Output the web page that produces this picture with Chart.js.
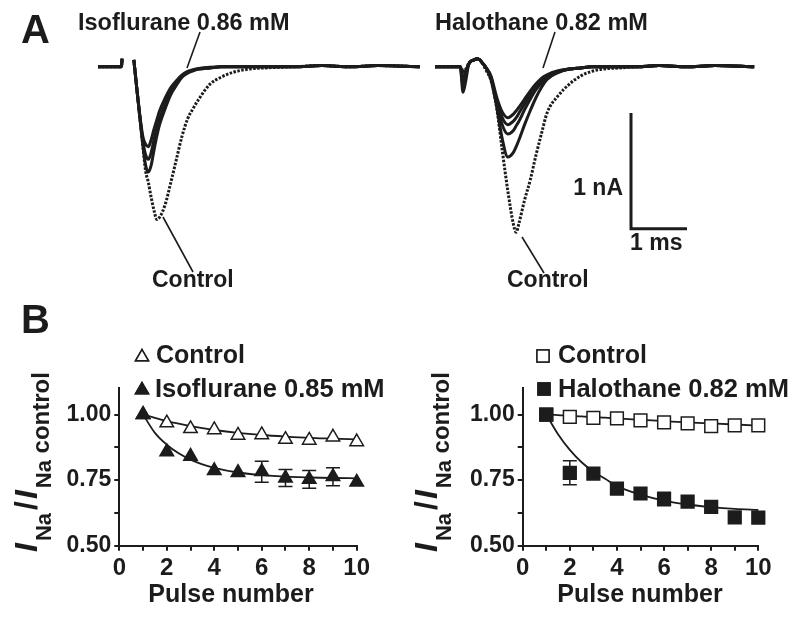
<!DOCTYPE html>
<html>
<head>
<meta charset="utf-8">
<script src="https://cdn.jsdelivr.net/npm/chart.js@4.4.1/dist/chart.umd.min.js"></script>
<style>
  body { margin: 0; background: #fff; }
  #fig { position: relative; width: 800px; height: 617px; overflow: hidden; background: #fff; }
  canvas { position: absolute; }
</style>
</head>
<body>
<div id="fig">
  <canvas id="traceIso" width="425" height="300" style="left:0;top:0;width:425px;height:300px"></canvas>
  <canvas id="traceHalo" width="375" height="300" style="left:425px;top:0;width:375px;height:300px"></canvas>
  <canvas id="pulseIso" width="400" height="317" style="left:0;top:300px;width:400px;height:317px"></canvas>
  <canvas id="pulseHalo" width="400" height="317" style="left:400px;top:300px;width:400px;height:317px"></canvas>
</div>
<script>
// ---- panel A : current traces (time in ms, current in nA) ----
var isoTime = [0, 0.42, 0.43, 0.5, 0.64, 0.7, 0.8, 0.85, 0.9, 0.95, 1.0, 1.05, 1.1, 1.2, 1.3, 1.4, 1.5, 1.6, 1.7, 1.8, 2.0, 2.2, 2.4, 2.7, 3.0, 3.5, 4.0, 4.5, 5.0, 5.75];
var isoControlTrace = [0, 0, 0.07, null, 0.06, -0.22, -0.68, -0.9, -1.0, -1.13, -1.24, -1.32, -1.3, -1.19, -1.0, -0.8, -0.6, -0.45, -0.36, -0.28, -0.15, -0.09, -0.05, -0.02, -0.01, 0, 0.01, 0, 0.01, 0];
var isoTrace1 = [0, 0, 0.07, null, 0.06, -0.22, -0.6, -0.67, -0.69, -0.63, -0.54, -0.46, -0.38, -0.27, -0.18, -0.12, -0.07, -0.04, -0.025, -0.015, -0.005, 0, 0, 0, 0, 0, 0.01, 0, 0.01, 0];
var isoTrace2 = [0, 0, 0.07, null, 0.06, -0.22, -0.64, -0.76, -0.8, -0.74, -0.63, -0.53, -0.45, -0.32, -0.21, -0.14, -0.08, -0.05, -0.03, -0.02, -0.01, 0, 0, 0, 0, 0, 0.01, 0, 0.01, 0];
var isoTrace3 = [0, 0, 0.07, null, 0.06, -0.22, -0.67, -0.85, -0.91, -0.85, -0.72, -0.6, -0.5, -0.36, -0.24, -0.16, -0.09, -0.055, -0.035, -0.02, -0.01, 0, 0, 0, 0, 0, 0.01, 0, 0.01, 0];

var haloTime = [0, 0.45, 0.5, 0.55, 0.6, 0.65, 0.7, 0.75, 0.8, 0.85, 0.9, 1.0, 1.1, 1.2, 1.3, 1.4, 1.45, 1.5, 1.6, 1.7, 1.8, 1.9, 2.0, 2.2, 2.4, 2.6, 2.8, 3.0, 3.3, 3.6, 4.0, 4.5, 5.0, 5.7];
var haloControlTrace = [0, 0, -0.03, -0.02, 0.03, 0.05, 0.06, 0.07, 0.06, 0.03, -0.02, -0.12, -0.35, -0.72, -1.07, -1.36, -1.43, -1.35, -1.15, -0.98, -0.77, -0.58, -0.4, -0.25, -0.15, -0.08, -0.04, -0.02, -0.01, 0, 0.01, 0, 0.01, 0];
var haloTrace1 = [0, 0, -0.22, -0.12, 0.02, 0.05, 0.06, 0.07, 0.06, 0.03, 0, -0.08, -0.26, -0.39, -0.44, -0.41, -0.38, -0.35, -0.28, -0.21, -0.15, -0.1, -0.07, -0.035, -0.02, -0.01, 0, 0, 0, 0, 0.01, 0, 0.01, 0];
var haloTrace2 = [0, 0, -0.16, -0.08, 0.02, 0.05, 0.06, 0.07, 0.06, 0.03, 0, -0.09, -0.29, -0.44, -0.5, -0.47, -0.44, -0.4, -0.32, -0.24, -0.17, -0.12, -0.08, -0.04, -0.02, -0.01, 0, 0, 0, 0, 0.01, 0, 0.01, 0];
var haloTrace3 = [0, 0, -0.1, -0.05, 0.02, 0.05, 0.06, 0.07, 0.06, 0.03, 0, -0.1, -0.31, -0.5, -0.58, -0.55, -0.51, -0.47, -0.37, -0.28, -0.2, -0.14, -0.09, -0.045, -0.02, -0.01, 0, 0, 0, 0, 0.01, 0, 0.01, 0];
var haloTrace4 = [0, 0, -0.05, -0.03, 0.02, 0.05, 0.06, 0.07, 0.06, 0.03, 0, -0.11, -0.34, -0.62, -0.78, -0.74, -0.69, -0.63, -0.5, -0.38, -0.27, -0.18, -0.11, -0.05, -0.02, -0.01, 0, 0, 0, 0, 0.01, 0, 0.01, 0];

// ---- panel B : I_Na / I_Na control against pulse number ----
var pulses = [1, 2, 3, 4, 5, 6, 7, 8, 9, 10];
var isoControl = [1.0, 0.968, 0.946, 0.942, 0.921, 0.923, 0.905, 0.902, 0.914, 0.896];
var isoDrug = [1.0, 0.858, 0.841, 0.786, 0.779, 0.782, 0.758, 0.753, 0.763, 0.742];
var isoDrugErr = [0, 0, 0, 0, 0, 0.04, 0.032, 0.034, 0.034, 0];
var haloControl = [1.0, 0.991, 0.987, 0.985, 0.978, 0.97, 0.966, 0.956, 0.959, 0.959];
var haloDrug = [1.0, 0.778, 0.775, 0.718, 0.699, 0.678, 0.668, 0.648, 0.608, 0.607];
var haloDrugErr = [0, 0.046, 0, 0.02, 0, 0.026, 0, 0, 0, 0];

var fitX = [1, 1.5, 2, 2.5, 3, 3.5, 4, 5, 6, 7, 8, 9, 10];
var isoControlFit = [1.0, 0.987, 0.975, 0.965, 0.956, 0.948, 0.941, 0.93, 0.922, 0.916, 0.911, 0.908, 0.905];
var isoDrugFit = [1.0, 0.93, 0.885, 0.852, 0.828, 0.81, 0.797, 0.779, 0.769, 0.763, 0.76, 0.758, 0.757];
var haloControlFit = [1.0, 0.998, 0.995, 0.993, 0.99, 0.988, 0.985, 0.98, 0.975, 0.97, 0.966, 0.962, 0.958];
var haloDrugFit = [1.0, 0.925, 0.865, 0.818, 0.782, 0.755, 0.727, 0.695, 0.672, 0.657, 0.647, 0.64, 0.636];

var xTicksB = [0, 1, 2, 3, 4, 5, 6, 7, 8, 9, 10];
var yTicksB = [0.5, 0.625, 0.75, 0.875, 1.0];

var ink = '#1c1c1c';
var face = "'Liberation Sans', Arial, sans-serif";

function xy(xs, ys) {
    return xs.map(function (x, i) { return {x: x, y: ys[i]}; });
}

// free text, leader lines, legend marks and the composite y title
var notesPlugin = {
    id: 'notes',
    afterDraw: function (chart, args, opts) {
        var ctx = chart.ctx;
        ctx.save();
        ctx.fillStyle = ink;
        ctx.strokeStyle = ink;
        (opts.lines || []).forEach(function (l) {
            ctx.lineWidth = 1.6;
            ctx.beginPath();
            ctx.moveTo(l[0], l[1]);
            ctx.lineTo(l[2], l[3]);
            ctx.stroke();
        });
        (opts.marks || []).forEach(function (m) {
            ctx.fillStyle = m.fill;
            ctx.strokeStyle = ink;
            Chart.helpers.drawPoint(ctx, {pointStyle: m.style, radius: m.r, rotation: 0, borderWidth: 1.5}, m.x, m.y);
            ctx.fill();
            ctx.stroke();
        });
        ctx.fillStyle = ink;
        ctx.textBaseline = 'alphabetic';
        (opts.texts || []).forEach(function (t) {
            ctx.font = t.font;
            ctx.textAlign = t.align || 'left';
            ctx.fillText(t.text, t.x, t.y);
        });
        if (opts.yTitle) {
            var yt = opts.yTitle;
            ctx.translate(yt.x, yt.y);
            ctx.rotate(-Math.PI / 2);
            ctx.textAlign = 'left';
            var pos = 0;
            yt.parts.forEach(function (p) {
                ctx.font = p.font;
                ctx.fillText(p.text, pos, p.shift);
                pos += ctx.measureText(p.text).width + (p.gap || 0);
            });
        }
        ctx.restore();
    }
};

// 1 nA / 1 ms calibration bar, placed in data units
var scaleBarPlugin = {
    id: 'scaleBar',
    afterDraw: function (chart, args, opts) {
        if (!opts.x) return;
        var xs = chart.scales.x, ys = chart.scales.y, ctx = chart.ctx;
        var x0 = xs.getPixelForValue(opts.x), y0 = ys.getPixelForValue(opts.y);
        ctx.save();
        ctx.strokeStyle = ink;
        ctx.lineWidth = 3;
        ctx.beginPath();
        ctx.moveTo(x0, ys.getPixelForValue(opts.y + opts.dy));
        ctx.lineTo(x0, y0);
        ctx.lineTo(xs.getPixelForValue(opts.x + opts.dx), y0);
        ctx.stroke();
        ctx.restore();
    }
};

var errorBarPlugin = {
    id: 'errorBars',
    beforeDatasetsDraw: function (chart, args, opts) {
        if (!opts.err) return;
        var xs = chart.scales.x, ys = chart.scales.y, ctx = chart.ctx;
        ctx.save();
        ctx.strokeStyle = ink;
        ctx.lineWidth = 1.5;
        opts.err.forEach(function (e, i) {
            if (!e) return;
            var x = xs.getPixelForValue(opts.x[i]);
            var top = ys.getPixelForValue(opts.y[i] + e);
            var bot = ys.getPixelForValue(opts.y[i] - e);
            ctx.beginPath();
            ctx.moveTo(x, top); ctx.lineTo(x, bot);
            ctx.moveTo(x - 7, top); ctx.lineTo(x + 7, top);
            ctx.moveTo(x - 7, bot); ctx.lineTo(x + 7, bot);
            ctx.stroke();
        });
        ctx.restore();
    }
};

function traceSet(ys, dashed) {
    return {
        data: ys,
        borderColor: ink,
        borderWidth: dashed ? 3 : 3,
        borderDash: dashed ? [2.5, 1.5] : [],
        pointRadius: 0,
        showLine: true,
        spanGaps: false,
        clip: false,
        cubicInterpolationMode: 'monotone'
    };
}

function traceChart(id, time, traces, xMax, pad, notes, bar) {
    new Chart(document.getElementById(id), {
        type: 'scatter',
        data: {datasets: traces.map(function (t) { return traceSet(xy(time, t.y), t.dashed); })},
        options: {
            responsive: false,
            animation: false,
            events: [],
            layout: {padding: pad},
            scales: {
                x: {type: 'linear', display: false, min: 0, max: xMax},
                y: {type: 'linear', display: false, min: -1.6, max: 0.3}
            },
            plugins: {legend: {display: false}, tooltip: {enabled: false}, notes: notes, scaleBar: bar || {}}
        },
        plugins: [notesPlugin, scaleBarPlugin]
    });
}

traceChart('traceIso', isoTime, [
    {y: isoControlTrace, dashed: true},
    {y: isoTrace3}, {y: isoTrace2}, {y: isoTrace1}
], 5.75, {left: 98, right: 5, top: 32, bottom: 48}, {
    texts: [
        {text: 'A', x: 21, y: 43, font: 'bold 40px ' + face},
        {text: 'Isoflurane 0.86 mM', x: 78, y: 30, font: 'bold 23.5px ' + face},
        {text: 'Control', x: 152, y: 287, font: 'bold 23px ' + face}
    ],
    lines: [[200, 32, 187, 68], [163, 217, 193, 272]]
});

traceChart('traceHalo', haloTime, [
    {y: haloControlTrace, dashed: true},
    {y: haloTrace4}, {y: haloTrace3}, {y: haloTrace2}, {y: haloTrace1}
], 5.7, {left: 10, right: 45.8, top: 32, bottom: 48}, {
    texts: [
        {text: 'Halothane 0.82 mM', x: 10, y: 30, font: 'bold 23.5px ' + face},
        {text: 'Control', x: 82, y: 287, font: 'bold 23px ' + face},
        {text: '1 nA', x: 198, y: 195, font: 'bold 23px ' + face, align: 'right'},
        {text: '1 ms', x: 205, y: 250, font: 'bold 23px ' + face}
    ],
    lines: [[130, 32, 118, 68], [97, 237, 119, 273]]
}, {x: 3.5, y: -1.4, dx: 1, dy: 1});

function yTitle() {
    var big = 'italic bold 32px ' + face, sub = 'bold 22px ' + face;
    return {
        x: 37, y: 252,
        parts: [
            {text: 'I', font: big, shift: 0, gap: 2},
            {text: 'Na', font: sub, shift: 14, gap: 3},
            {text: '/', font: 'bold 32px ' + face, shift: 0, gap: 2},
            {text: 'I', font: big, shift: 0, gap: 2},
            {text: 'Na', font: sub, shift: 14, gap: 0},
            {text: ' control', font: 'bold 24px ' + face, shift: 12, gap: 0}
        ]
    };
}

function pulseChart(id, ctrl, drug, err, ctrlFit, drugFit, style, r, pad, notes) {
    new Chart(document.getElementById(id), {
        type: 'scatter',
        data: {
            datasets: [
                {data: xy(pulses, drug), pointStyle: style, pointRadius: r, backgroundColor: ink, borderColor: ink, borderWidth: 1.5, clip: false, order: 0},
                {data: xy(pulses, ctrl), pointStyle: style, pointRadius: r, backgroundColor: '#fff', borderColor: ink, borderWidth: 1.5, clip: false, order: 0},
                {data: xy(fitX, drugFit), showLine: true, pointRadius: 0, borderColor: ink, borderWidth: 1.8, cubicInterpolationMode: 'monotone', clip: false, order: 1},
                {data: xy(fitX, ctrlFit), showLine: true, pointRadius: 0, borderColor: ink, borderWidth: 1.8, cubicInterpolationMode: 'monotone', clip: false, order: 1}
            ]
        },
        options: {
            responsive: false,
            animation: false,
            events: [],
            layout: {padding: pad},
            scales: {
                x: {
                    type: 'linear', min: 0, max: 10,
                    afterBuildTicks: function (s) { s.ticks = xTicksB.map(function (v) { return {value: v}; }); },
                    afterFit: function (s) { s.height = 40; },
                    ticks: {
                        autoSkip: false, maxRotation: 0, padding: 3, color: ink,
                        font: {family: face, weight: 'bold', size: 24},
                        callback: function (v) { return v % 2 === 0 ? String(v) : ''; }
                    },
                    grid: {drawOnChartArea: false, drawTicks: true, tickLength: 5, color: ink, lineWidth: 2},
                    border: {display: true, color: ink, width: 2}
                },
                y: {
                    type: 'linear', min: 0.5, max: 1.1,
                    afterBuildTicks: function (s) { s.ticks = yTicksB.map(function (v) { return {value: v}; }); },
                    afterFit: function (s) { s.width = 60; },
                    ticks: {
                        autoSkip: false, padding: 3, color: ink,
                        font: {family: face, weight: 'bold', size: 23},
                        callback: function (v) { return Math.abs(v * 4 - Math.round(v * 4)) < 1e-6 ? v.toFixed(2) : ''; }
                    },
                    grid: {drawOnChartArea: false, drawTicks: true, tickLength: 5, color: ink, lineWidth: 2},
                    border: {display: true, color: ink, width: 2}
                }
            },
            plugins: {
                legend: {display: false},
                tooltip: {enabled: false},
                notes: notes,
                errorBars: {x: pulses, y: drug, err: err}
            }
        },
        plugins: [notesPlugin, errorBarPlugin]
    });
}

pulseChart('pulseIso', isoControl, isoDrug, isoDrugErr, isoControlFit, isoDrugFit, 'triangle', 7.8,
    {left: 59.3, right: 43.3, top: 88.3, bottom: 31.3}, {
    texts: [
        {text: 'B', x: 21, y: 33, font: 'bold 40px ' + face},
        {text: 'Control', x: 156, y: 63, font: 'bold 25px ' + face},
        {text: 'Isoflurane 0.85 mM', x: 155, y: 97, font: 'bold 25.5px ' + face},
        {text: 'Pulse number', x: 231, y: 302, font: 'bold 25px ' + face, align: 'center'}
    ],
    marks: [
        {style: 'triangle', r: 7.5, x: 142, y: 57, fill: '#fff'},
        {style: 'triangle', r: 7.5, x: 142, y: 90, fill: ink}
    ],
    yTitle: yTitle()
});

pulseChart('pulseHalo', haloControl, haloDrug, haloDrugErr, haloControlFit, haloDrugFit, 'rect', 9,
    {left: 62.7, right: 41.7, top: 88.3, bottom: 31.3}, {
    texts: [
        {text: 'Control', x: 158, y: 63, font: 'bold 25px ' + face},
        {text: 'Halothane 0.82 mM', x: 158, y: 97, font: 'bold 25.5px ' + face},
        {text: 'Pulse number', x: 240, y: 302, font: 'bold 25px ' + face, align: 'center'}
    ],
    marks: [
        {style: 'rect', r: 8.5, x: 143, y: 56, fill: '#fff'},
        {style: 'rect', r: 8.5, x: 144, y: 89, fill: ink}
    ],
    yTitle: yTitle()
});
</script>
</body>
</html>
